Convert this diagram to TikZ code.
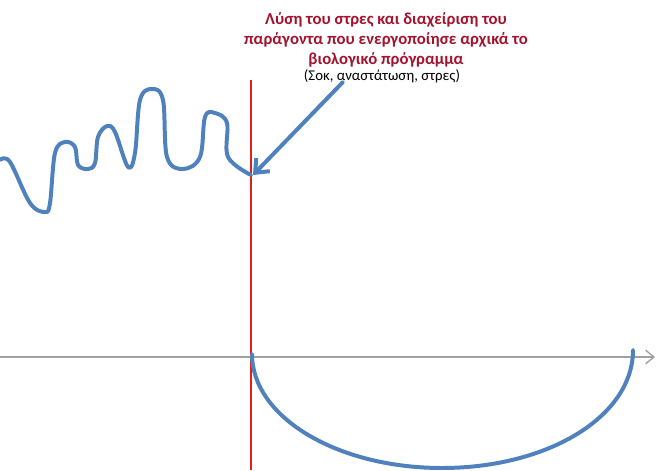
\documentclass[tikz,border=0pt]{standalone}
\usepackage{fontspec}
\setmainfont{Carlito}
\usetikzlibrary{arrows.meta}

\definecolor{wavblue}{HTML}{4F81BD}
\definecolor{axgray}{HTML}{A0A0A0}
\definecolor{cutred}{HTML}{E0201F}
\definecolor{txtred}{HTML}{A3122E}

\tikzset{
  wave/.style={wavblue, line width=3pt, line cap=round, line join=round},
  redtxt/.style={align=center, text=txtred, font=\fontsize{12.6}{15.2}\selectfont\bfseries, inner sep=0pt},
}

\begin{document}
\begin{tikzpicture}[x=0.0265cm, y=-0.0265cm]
  \useasboundingbox (0,0) rectangle (656,470);
  % axis and the red cut line
  \coordinate (axl) at (0,357);
  \coordinate (axr) at (655,357);
  \draw[axgray, line width=1pt, -{Straight Barb[length=2.2mm, width=3.6mm]}] (axl) -- (axr);
  \coordinate (cuttop) at (251,80);
  \coordinate (cutbot) at (251,470);
  \draw[cutred, line width=2.2pt] (cuttop) -- (cutbot);
  % labels
  \node[redtxt] (title) at (386,40) {Λύση του στρες και διαχείριση του\\παράγοντα που ενεργοποίησε αρχικά το\\βιολογικό πρόγραμμα};
  \node[font=\fontsize{11.2}{13}\selectfont, inner sep=0pt] (cause) at (382,76) {(Σοκ, αναστάτωση, στρες)};
  % wave before the cut
  \draw[wave] plot[smooth, tension=0.6] coordinates {
    (0,160) (10,162) (30,203) (45,212) (50,203) (55,153) (65,142) (75,147)
    (78,165) (88,169) (95,163) (98,137) (107,126) (115,132) (128,167)
    (135,153) (140,100) (152,89) (163,100) (167,157) (183,169) (200,157)
    (205,117) (215,113) (227,123) (228,157) (251,175)};
  \coordinate (wend) at (253,175);
  \coordinate (atail) at (343,82);
  \draw[wave, -{Straight Barb[length=3mm, width=5mm]}] (atail) -- (wend);
  % dip after the cut
  \coordinate (dipl) at (252,354);
  \coordinate (dipm) at (442,468);
  \coordinate (dipr) at (633,350);
  \draw[wave] (dipl) .. controls (252,417) and (337,468) .. (dipm)
    .. controls (547,468) and (633,417) .. (dipr);
\end{tikzpicture}
\end{document}
